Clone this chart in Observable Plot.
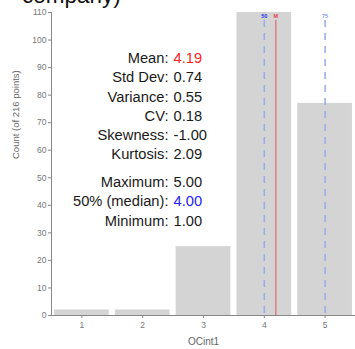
<!DOCTYPE html>
<html>
<head>
<meta charset="utf-8">
<script src="https://cdn.jsdelivr.net/npm/d3@7"></script>
<script src="https://cdn.jsdelivr.net/npm/@observablehq/plot@0.6"></script>
<style>
  html, body { margin: 0; padding: 0; background: #fff; }
  body { position: relative; width: 355px; height: 349px; overflow: hidden; font-family: "Liberation Sans", Arial, sans-serif; }
  #title { position: absolute; left: 22px; top: -15px; font-size: 22.5px; line-height: 22px; color: #111; white-space: nowrap; }
</style>
</head>
<body>
<div id="title">company)</div>
<div id="chart"></div>
<script>
// ---- data ----
const categories = [1, 2, 3, 4, 5];
const counts = [2, 2, 25, 110, 77];
const yTicks = [0, 10, 20, 30, 40, 50, 60, 70, 80, 90, 100, 110];
const statLabels = ["Mean:", "Std Dev:", "Variance:", "CV:", "Skewness:", "Kurtosis:", "Maximum:", "50% (median):", "Minimum:"];
const statValues = ["4.19", "0.74", "0.55", "0.18", "-1.00", "2.09", "5.00", "4.00", "1.00"];
const meanValue = 4.19;
const medianValue = 4;
const q75Value = 5;
const xLabel = "OCint1";
const yLabel = "Count (of 216 points)";

// ---- build ----
const bars = categories.map((c, i) => ({cat: c, count: counts[i]}));
const red = "#e8413c", redLine = "#e07070";
const blue = "#2233ee", blueLine = "#99aaee", blueLight = "#8899ee";
const valueColor = {"Mean:": "#ff2222", "50% (median):": "#2222ff"};
const font = "Liberation Sans, Arial, sans-serif";

const statMarks = statLabels.flatMap((l, i) => {
  const row = i + (i >= 6 ? 0.43 : 0);
  const dy = 40 + row * 19.3;
  return [
    Plot.text([l], {frameAnchor: "top-left", dx: 117, dy, textAnchor: "end", fontSize: 14.7, fill: "#1a1a1a"}),
    Plot.text([statValues[i]], {frameAnchor: "top-left", dx: 122, dy, textAnchor: "start", fontSize: 14.7, fill: valueColor[l] || "#1a1a1a"})
  ];
});

const chart = Plot.plot({
  width: 355,
  height: 349,
  marginLeft: 51,
  marginRight: 0,
  marginTop: 12,
  marginBottom: 34,
  style: {fontFamily: font, color: "#777", background: "transparent"},
  x: {type: "linear", domain: [0.5, 5.5]},
  y: {domain: [0, 110]},
  marks: [
    Plot.rectY(bars, {x1: d => d.cat - 0.45, x2: d => d.cat + 0.45, y1: 0, y2: "count", fill: "#d4d4d4"}),
    Plot.ruleX([medianValue, q75Value], {stroke: blueLine, strokeWidth: 1.5, strokeDasharray: "7,6", insetTop: 8}),
    Plot.ruleX([meanValue], {stroke: redLine, strokeWidth: 1.3, insetTop: 8}),
    Plot.text([medianValue], {x: d => d, text: () => "50", frameAnchor: "top", dy: 2, fontSize: 5.5, fontWeight: "bold", fill: blue}),
    Plot.text([meanValue], {x: d => d, text: () => "M", frameAnchor: "top", dy: 2, fontSize: 5.5, fontWeight: "bold", fill: red}),
    Plot.text([q75Value], {x: d => d, text: () => "75", frameAnchor: "top", dy: 2, fontSize: 5.5, fontWeight: "bold", fill: blueLight}),
    Plot.ruleY([0], {stroke: "#888"}),
    Plot.ruleX([0.5], {stroke: "#888"}),
    Plot.axisY({ticks: yTicks, tickSize: 3, tickPadding: 2, fontSize: 8.5, label: null, stroke: "#888", fill: "#777"}),
    Plot.axisX({ticks: categories, tickFormat: d => String(d), tickSize: 3, tickPadding: 3, fontSize: 8.5, label: null, stroke: "#888", fill: "#777"}),
    Plot.text([xLabel], {frameAnchor: "bottom", dy: 29, fontSize: 10, fill: "#666"}),
    Plot.text([yLabel], {frameAnchor: "left", rotate: -90, dx: -36, dy: -5, fontSize: 9.5, fill: "#666"}),
    ...statMarks
  ]
});
document.getElementById("chart").appendChild(chart);
</script>
</body>
</html>
